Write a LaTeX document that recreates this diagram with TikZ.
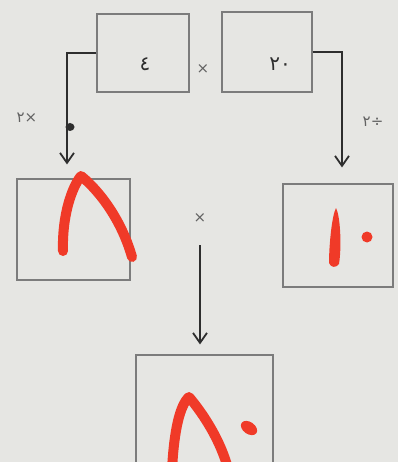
\documentclass[tikz,border=0pt]{standalone}
\usepackage{fontspec}
\newfontfamily\arabicfont[Script=Arabic]{DejaVu Sans}
\usetikzlibrary{arrows.meta}
\definecolor{bg}{HTML}{E6E6E3}
\definecolor{boxline}{HTML}{7C7C7C}
\definecolor{ink}{HTML}{2E2E2E}
\definecolor{pen}{HTML}{F03A28}
\tikzset{
  box/.style={draw=boxline, line width=1.1pt, fill=bg, inner sep=0pt},
  conn/.style={draw=ink, line width=1.8pt, -{Straight Barb[length=10pt,width=14pt,line width=1.8pt]}},
  digit/.style={font=\arabicfont\fontsize{20}{20}\selectfont, text=ink},
  oplabel/.style={font=\arabicfont\fontsize{15}{15}\selectfont, text=ink!75},
  redpen/.style={draw=pen, line width=10pt, line cap=round, line join=round},
}
\begin{document}
\begin{tikzpicture}[x=1pt,y=-1pt]
\fill[bg] (0,0) rectangle (398,462);
\useasboundingbox (0,0) rectangle (398,462);
% boxes
\node[box, minimum width=92pt, minimum height=78pt] (tl) at (143,53) {};
\node[box, minimum width=90pt, minimum height=80pt] (tr) at (267,52) {};
\node[box, minimum width=113pt, minimum height=101pt] (ml) at (73.5,229.5) {};
\node[box, minimum width=110pt, minimum height=103pt] (mr) at (338,235.5) {};
\node[box, minimum width=137pt, minimum height=112pt] (bt) at (204.5,411) {};
% printed digits
\node[digit] (n4) at (145,64) {٤};
\node[digit] (n20) at (280,64) {\mbox{٢}\mbox{٠}};
\node[oplabel] (x1) at (203,69) {×};
\node[oplabel] (x2) at (200,218) {×};
\node[oplabel] (lab1) at (27,118) {\mbox{٢}\mbox{×}};
\node[oplabel] (lab2) at (373,122) {\mbox{٢}\mbox{÷}};
% connectors
\draw[conn, shorten >=14pt] (tl.west) -| ([xshift=-6.5pt]ml.north);
\draw[conn, shorten >=16pt] (tr.east) -| ([xshift=4pt]mr.north);
\coordinate (mstart) at (200,245);
\draw[conn, shorten >=10pt] (mstart) -- (bt.north -| mstart);
% small ink blob
\fill[ink] (70,127) ellipse (4.5pt and 4pt);
% handwriting
\draw[redpen] (63,251) .. controls (62,215) and (72,187) .. (81,176)
              .. controls (95,187) and (120,215) .. (132,257);
\fill[pen] (336,208) .. controls (340,215) and (342,245) .. (339,264)
           .. controls (336,268) and (331,268) .. (329,263)
           .. controls (329,245) and (332,215) .. (336,208) -- cycle;
\fill[pen] (367,237) circle (5.5pt);
\draw[redpen] (172,470) .. controls (174,430) and (180,405) .. (189,397)
              .. controls (200,410) and (218,435) .. (227,465);
\fill[pen, rotate around={-35:(249,428)}] (249,428) ellipse (9pt and 6pt);
\end{tikzpicture}
\end{document}
